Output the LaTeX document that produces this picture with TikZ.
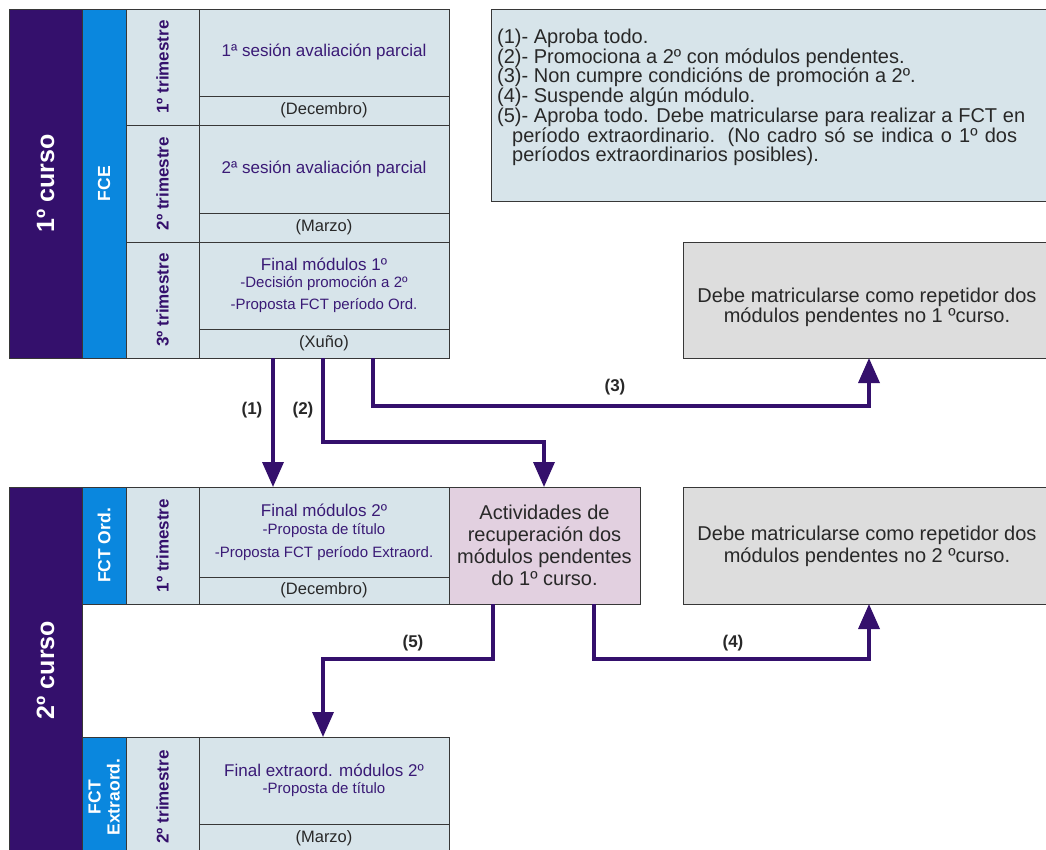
\documentclass[tikz,border=0pt]{standalone}
\usepackage{fontspec}
\setmainfont{Liberation Sans}
\usetikzlibrary{arrows.meta}
\definecolor{dpur}{RGB}{52,16,108}
\definecolor{bluec}{RGB}{10,135,222}
\definecolor{lblue}{RGB}{215,228,234}
\definecolor{pinkc}{RGB}{226,208,224}
\definecolor{grayc}{RGB}{221,221,221}
\definecolor{bord}{RGB}{55,55,55}
\definecolor{txtp}{RGB}{58,26,118}
\definecolor{txtg}{RGB}{40,40,40}
\begin{document}
\begin{tikzpicture}[x=1pt,y=-1pt,
  box/.style={draw=bord,line width=0.9pt,anchor=north west,inner sep=0pt,outer sep=0pt},
  sz/.style 2 args={minimum width=#1,minimum height=#2},
  trim/.style={font=\bfseries\fontsize{17}{17}\selectfont,text=dpur,rotate=90,inner sep=0pt},
  vlab/.style={font=\bfseries\fontsize{17.5}{19}\selectfont,text=white,rotate=90,inner sep=0pt,align=center},
  curso/.style={font=\bfseries\fontsize{25}{25}\selectfont,text=white,rotate=90,inner sep=0pt},
  ctext/.style={text=txtp,align=center,font=\fontsize{17}{19}\selectfont},
  mtext/.style={text=txtg,font=\fontsize{16.5}{18}\selectfont},
  btext/.style={text=txtg,align=center,font=\fontsize{20}{21}\selectfont,inner sep=0pt},
  arr/.style={draw=dpur,line width=3.5pt,-{Triangle[length=25pt,width=21pt]}},
  num/.style={font=\bfseries\fontsize{17}{17}\selectfont,text=txtg,inner sep=0pt}
]
\useasboundingbox (0,0) rectangle (1046,849);
\clip (0,0) rectangle (1046,849);
% ---------- first course ----------
\node[box,fill=dpur,sz={73pt}{349pt}] (c1) at (9,9) {};
\node[curso] (c1l) at (c1.center) {1º curso};
\node[box,fill=bluec,sz={44pt}{349pt}] (fce) at (82,9) {};
\node[vlab] (fcel) at (fce.center) {FCE};
\node[box,fill=lblue,sz={73pt}{116pt}] (t1) at (126,9) {};
\node[trim] (t1l) at (t1.center) {1º trimestre};
\node[box,fill=lblue,sz={73pt}{117pt}] (t2) at (126,125) {};
\node[trim] (t2l) at (t2.center) {2º trimestre};
\node[box,fill=lblue,sz={73pt}{116pt}] (t3) at (126,242) {};
\node[trim] (t3l) at (t3.center) {3º trimestre};
\node[box,fill=lblue,sz={250pt}{87pt},ctext] (s1) at (199,9) {1ª sesión avaliación parcial};
\node[box,fill=lblue,sz={250pt}{29pt},mtext] (m1) at (199,96) {(Decembro)};
\node[box,fill=lblue,sz={250pt}{88pt},ctext] (s2) at (199,125) {2ª sesión avaliación parcial};
\node[box,fill=lblue,sz={250pt}{29pt},mtext] (m2) at (199,213) {(Marzo)};
\node[box,fill=lblue,sz={250pt}{87pt},ctext] (s3) at (199,242) {Final módulos 1º\\[-2pt]{\fontsize{15}{17}\selectfont -Decisión promoción a 2º}\\[3pt]{\fontsize{15}{17}\selectfont -Proposta FCT período Ord.}};
\node[box,fill=lblue,sz={250pt}{29pt},mtext] (m3) at (199,329) {(Xuño)};
% ---------- legend ----------
\node[box,fill=lblue,sz={600pt}{192pt}] (leg) at (491,9) {};
\node[anchor=west,align=left,inner sep=0pt,text=txtg,font=\fontsize{20}{19.7}\selectfont] (legt) at (497,97.5)
 {(1)- Aproba todo.\\
  (2)- Promociona a 2º con módulos pendentes.\\
  (3)- Non cumpre condicións de promoción a 2º.\\
  (4)- Suspende algún módulo.\\
  \makebox[528pt][s]{(5)- Aproba todo. Debe matricularse para realizar a FCT en}\\
  \hspace*{15pt}\makebox[505pt][s]{período extraordinario. (No cadro só se indica o 1º dos}\\
  \hspace*{15pt}períodos extraordinarios posibles).};
% ---------- repeat boxes ----------
\node[box,fill=grayc,sz={400pt}{116pt}] (g1) at (683,242) {};
\node[btext,font=\fontsize{20}{20}\selectfont] (g1t) at (867,307) {Debe matricularse como repetidor dos\\módulos pendentes no 1 ºcurso.};
\node[box,fill=grayc,sz={400pt}{117pt}] (g2) at (683,487) {};
\node[btext,font=\fontsize{20}{22}\selectfont] (g2t) at (867,546) {Debe matricularse como repetidor dos\\módulos pendentes no 2 ºcurso.};
% ---------- second course ----------
\node[box,fill=dpur,sz={73pt}{370pt}] (c2) at (9,487) {};
\node[curso] (c2l) at (45.5,670) {2º curso};
\node[box,fill=bluec,sz={44pt}{117pt}] (fct) at (82,487) {};
\node[vlab] (fctl) at (fct.center) {FCT Ord.};
\node[box,fill=lblue,sz={73pt}{117pt}] (t4) at (126,487) {};
\node[trim] (t4l) at (t4.center) {1º trimestre};
\node[box,fill=lblue,sz={250pt}{90pt},ctext] (s4) at (199,487) {Final módulos 2º\\[-1pt]{\fontsize{15}{17}\selectfont -Proposta de título}\\[4pt]{\fontsize{15}{17}\selectfont -Proposta FCT período Extraord.}};
\node[box,fill=lblue,sz={250pt}{27pt},mtext] (m4) at (199,577) {(Decembro)};
\node[box,fill=pinkc,sz={191pt}{117pt}] (pink) at (449,487) {};
\node[btext,font=\fontsize{20}{22}\selectfont] (pinkt) at (pink.center) {Actividades de\\recuperación dos\\módulos pendentes\\do 1º curso.};
\node[box,fill=bluec,sz={44pt}{120pt}] (fcx) at (82,737) {};
\node[vlab] (fcxl) at (fcx.center) {FCT\\Extraord.};
\node[box,fill=lblue,sz={73pt}{120pt}] (t5) at (126,737) {};
\node[trim] (t5l) at (t5.center) {2º trimestre};
\node[box,fill=lblue,sz={250pt}{87pt},ctext] (s5) at (199,737) {Final extraord. módulos 2º\\[-2pt]{\fontsize{15}{17}\selectfont -Proposta de título}};
\node[box,fill=lblue,sz={250pt}{33pt},mtext] (m5) at (199,824) {};
\node[mtext,inner sep=0pt] (m5t) at (324,838) {(Marzo)};
% ---------- connectors ----------
\coordinate (a1) at (273,0);
\coordinate (a2) at (323,0);
\coordinate (a3) at (373,0);
\coordinate (a4) at (594,0);
\coordinate (a5) at (493,0);
\coordinate (k2) at (544,442);
\coordinate (k3) at (869,406);
\coordinate (k4) at (869,659);
\coordinate (k5) at (323,659);
\draw[arr] (m3.south -| a1) -- (s4.north -| a1);
\draw[arr] (m3.south -| a2) |- (k2) -- (pink.north -| k2);
\draw[arr] (m3.south -| a3) |- (k3) -- (g1.south -| k3);
\draw[arr] (pink.south -| a4) |- (k4) -- (g2.south -| k4);
\draw[arr] (pink.south -| a5) |- (k5) -- (s5.north -| k5);
\node[num] (n1) at (252,410) {(1)};
\node[num] (n2) at (303,410) {(2)};
\node[num] (n3) at (615,387) {(3)};
\node[num] (n4) at (733,643) {(4)};
\node[num] (n5) at (413,643) {(5)};
\end{tikzpicture}
\end{document}
